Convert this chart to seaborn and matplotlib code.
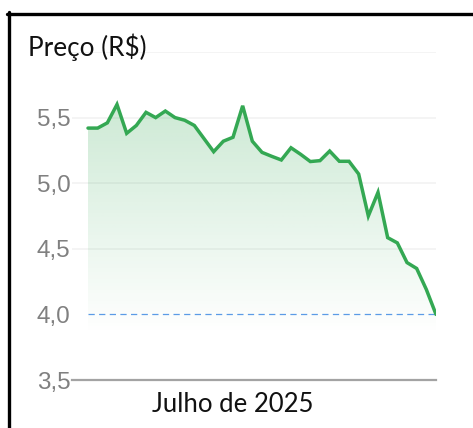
import numpy as np
import pandas as pd
import matplotlib
matplotlib.use("Agg")
import matplotlib.pyplot as plt
import seaborn as sns
from matplotlib.colors import to_rgb
from matplotlib.lines import Line2D

# ---- data ----
precos = [5.42, 5.42, 5.46, 5.60, 5.38, 5.44, 5.54, 5.50, 5.55, 5.50,
          5.48, 5.44, 5.34, 5.24, 5.32, 5.35, 5.59, 5.32, 5.235, 5.205,
          5.177, 5.27, 5.22, 5.165, 5.172, 5.245, 5.167, 5.167, 5.07, 4.75,
          4.93, 4.585, 4.545, 4.395, 4.35, 4.19, 4.0]
dias = list(range(len(precos)))
yticks = [3.5, 4.0, 4.5, 5.0, 5.5]
ytick_labels = ["3,5", "4,0", "4,5", "5,0", "5,5"]
referencia = 4.0
titulo = "Preço (R$)"
rotulo_x = "Julho de 2025"

df = pd.DataFrame({"dia": dias, "preco": precos})

sns.set_theme(style="white")
plt.rcParams["font.family"] = ["Liberation Sans", "DejaVu Sans"]

W, H = 473, 428
fig = plt.figure(figsize=(W / 100, H / 100), dpi=100)
fig.patch.set_facecolor("white")
left, right, bottom, top = 72, 436, 380, 52
ax = fig.add_axes([left / W, 1 - bottom / H, (right - left) / W, (bottom - top) / H])

verde = "#34a853"
n = len(dias)
px_per = (right - 88) / (n - 1)
xmin = -(88 - left) / px_per

# grid lines
for g in [4.5, 5.0, 5.5, 6.0]:
    ax.axhline(g, color="#f3f3f3", lw=1.3, zorder=0)

# gradient fill under the line
poly = ax.fill_between(df["dia"], df["preco"], 3.5, color="none", lw=0)
grad_top, grad_bot = 5.62, 3.85
ny = 256
alpha = np.linspace(0.25, 0.0, ny).reshape(-1, 1)
rgb = np.array(to_rgb(verde))
img = np.zeros((ny, 1, 4))
img[:, :, :3] = rgb
img[:, :, 3] = alpha
im = ax.imshow(img, aspect="auto", extent=[0, n - 1, grad_bot, grad_top],
               origin="upper", zorder=1, interpolation="bilinear")
path = poly.get_paths()[0]
im.set_clip_path(path, transform=ax.transData)

# reference dashed line
ax.plot([0, n - 1], [referencia, referencia], color="#5b9be6", lw=0.9,
        ls=(0, (5, 3.5)), zorder=2)

sns.lineplot(data=df, x="dia", y="preco", ax=ax, color=verde, lw=2.5,
             zorder=3, solid_joinstyle="miter")

ax.set_ylim(3.5, 6.0)
ax.set_xlim(xmin, n - 1)

# axes styling
for s in ["top", "right", "left"]:
    ax.spines[s].set_visible(False)
ax.spines["bottom"].set_color("#a3a3a3")
ax.spines["bottom"].set_linewidth(1.6)
ax.set_xticks([])
ax.set_yticks(yticks)
ax.set_yticklabels(ytick_labels)
ax.tick_params(axis="y", length=0, pad=1, labelsize=17.5, labelcolor="#808080")
ax.set_xlabel("")
ax.set_ylabel("")

# title and x label
fig.text(28 / W, 1 - 47 / H, titulo, fontsize=18.8, color="#111111",
         family=["Lato", "DejaVu Sans"], ha="left", va="center")
fig.text(233 / W, 1 - 404 / H, rotulo_x, fontsize=18.5, color="#111111",
         family=["Lato", "DejaVu Sans"], ha="center", va="center")

# black frame (top and left)
fig.add_artist(Line2D([7 / W, 1.0], [1 - 13.5 / H, 1 - 13.5 / H],
                      transform=fig.transFigure, color="black", lw=2.4))
fig.add_artist(Line2D([8.5 / W, 8.5 / W], [0, 1 - 12 / H],
                      transform=fig.transFigure, color="black", lw=2.4))

fig.savefig("out.png", dpi=100, facecolor="white")
